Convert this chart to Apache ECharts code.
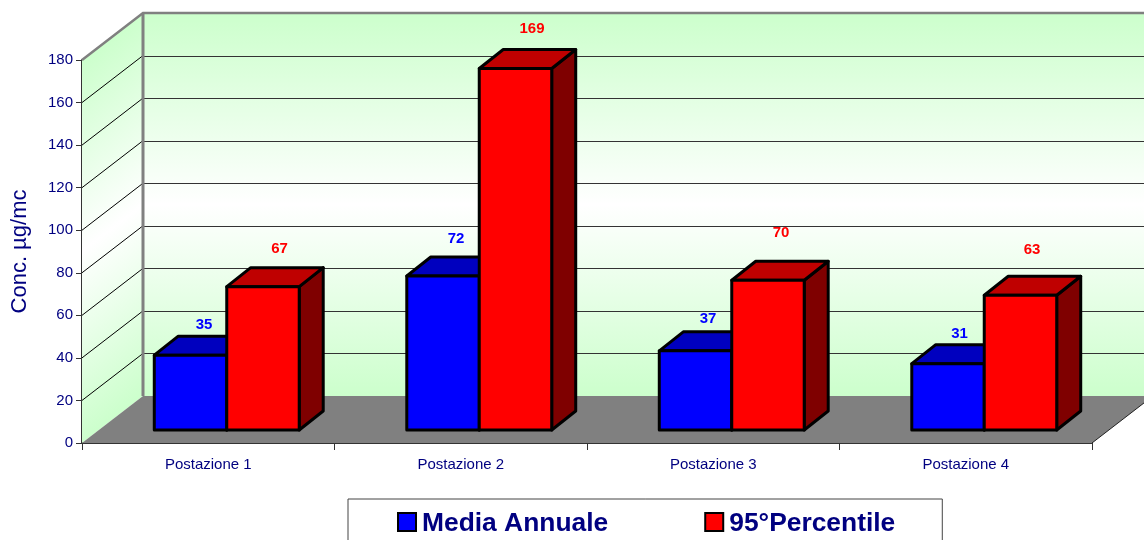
<!DOCTYPE html>
<html>
<head>
<meta charset="utf-8">
<style>html,body{margin:0;padding:0;background:#fff}#c{width:1144px;height:540px}</style>
<script src="https://cdn.jsdelivr.net/npm/echarts@6/dist/echarts.min.js"></script>
</head>
<body>
<div id="c"></div>
<script>
const categories = ['Postazione 1', 'Postazione 2', 'Postazione 3', 'Postazione 4'];
const mediaAnnuale = [35, 72, 37, 31];
const percentile95 = [67, 169, 70, 63];
const yTicks = [0, 20, 40, 60, 80, 100, 120, 140, 160, 180];

// Oblique-projection constants
const WALL_DX = 61, WALL_DY = -47;
const BAR_DX = 24, BAR_DY = -19;
const BAR_SHARE = 0.287;
const FONT = '"Liberation Sans", Arial, sans-serif';
const NAVY = '#000080';
const GREEN = '#CCFFCC';
// Square swatch sitting slightly above the legend text's middle
const SWATCH = 'path://M0,0L18,0L18,18L0,18Z M0,22L0,22';

// Label offsets from the middle of each bar's top front edge
const mediaLabelShift = [[13.5, -30.5], [13, -37.1], [12.5, -32.2], [11.5, -30]];
const percentileLabelShift = [[16.5, -37.8], [16.5, -40.1], [13, -47.5], [11.5, -45.5]];

function wallGradient(x0, y0, x1, y1) {
  return new echarts.graphic.LinearGradient(x0, y0, x1, y1, [
    { offset: 0, color: GREEN }, { offset: 0.5, color: '#FFFFFF' }, { offset: 1, color: GREEN }
  ], true);
}

function renderWalls(params, api) {
  const g = params.coordSys;
  const L = g.x, R = g.x + g.width, T = g.y, B = g.y + g.height;
  const bL = L + WALL_DX, bR = R + WALL_DX, bT = T + WALL_DY, bB = B + WALL_DY;
  // normal of the receding edge, so the side wall shading follows the skew
  const nx = -WALL_DY, ny = WALL_DX, k = (B - T) * ny / (nx * nx + ny * ny);
  const children = [
    { type: 'polygon', shape: { points: [[bL, bT], [bR, bT], [bR, bB], [bL, bB]] },
      style: { fill: wallGradient(0, bT, 0, bB) } },
    { type: 'polygon', shape: { points: [[L, T], [bL, bT], [bL, bB], [L, B]] },
      style: { fill: wallGradient(L, T, L + nx * k, T + ny * k) } },
    { type: 'polygon', shape: { points: [[L, B], [R, B], [bR, bB], [bL, bB]] },
      style: { fill: '#808080' } }
  ];
  yTicks.forEach(function (v) {
    const y = api.coord([0, v])[1];
    if (v > 0 && v < 180) {
      children.push({ type: 'line', shape: { x1: L, y1: y, x2: bL, y2: y + WALL_DY },
        style: { stroke: '#000', lineWidth: 1 } });
      children.push({ type: 'line', shape: { x1: bL, y1: Math.round(y + WALL_DY) + 0.5, x2: bR, y2: Math.round(y + WALL_DY) + 0.5 },
        style: { stroke: '#333', lineWidth: 1 } });
    }
  });
  children.push({ type: 'polyline', shape: { points: [[L, T], [bL, bT], [bR, bT]] },
    style: { stroke: '#808080', lineWidth: 2.5, fill: null } });
  children.push({ type: 'line', shape: { x1: bL, y1: bT, x2: bL, y2: bB },
    style: { stroke: '#808080', lineWidth: 3 } });
  children.push({ type: 'line', shape: { x1: R, y1: B, x2: bR, y2: bB },
    style: { stroke: '#222', lineWidth: 1 } });
  return { type: 'group', children: children };
}

function barRenderer(side, front, top, flank, labelColor, shifts) {
  return function (params, api) {
    const i = api.value(0);
    const w = api.size([1, 0])[0] * BAR_SHARE;
    const topP = api.coord([i, api.value(1)]);
    const baseP = api.coord([i, 0]);
    const x0 = topP[0] + (side < 0 ? -w : 0), x1 = x0 + w;
    const yT = topP[1], yB = baseP[1];
    const line = { stroke: '#000', lineWidth: 3, lineJoin: 'round' };
    const shift = shifts[i];
    return {
      type: 'group',
      children: [
        { type: 'polygon', shape: { points: [[x1, yT], [x1 + BAR_DX, yT + BAR_DY], [x1 + BAR_DX, yB + BAR_DY], [x1, yB]] },
          style: Object.assign({ fill: flank }, line) },
        { type: 'polygon', shape: { points: [[x0, yT], [x0 + BAR_DX, yT + BAR_DY], [x1 + BAR_DX, yT + BAR_DY], [x1, yT]] },
          style: Object.assign({ fill: top }, line) },
        { type: 'rect', shape: { x: x0, y: yT, width: w, height: yB - yT },
          style: Object.assign({ fill: front }, line) },
        { type: 'text', z2: 50,
          style: { x: (x0 + x1) / 2 + shift[0], y: yT + shift[1], text: String(api.value(1)),
            fill: labelColor, font: 'bold 15px ' + FONT, align: 'center', verticalAlign: 'middle' } }
      ]
    };
  };
}

const chart = echarts.init(document.getElementById('c'), null, { renderer: 'canvas' });
chart.setOption({
  animation: false,
  backgroundColor: '#fff',
  textStyle: { fontFamily: FONT },
  grid: [
    { left: 82, top: 60, width: 1010, height: 383, containLabel: false, outerBoundsMode: 'none' },
    // plane the bars stand on, set back from the front of the floor
    { left: 100.5, top: 45, width: 1010, height: 385, outerBoundsMode: 'none' }
  ],
  xAxis: [
    { type: 'category', gridIndex: 0, data: categories, boundaryGap: true,
      axisLine: { show: true, onZero: false, lineStyle: { color: '#333', width: 2 } },
      axisTick: { show: true, length: 7, alignWithLabel: false, lineStyle: { color: '#333', width: 1 } },
      axisLabel: { color: NAVY, fontSize: 15, margin: 14, fontFamily: FONT },
      splitLine: { show: false } },
    { type: 'category', gridIndex: 1, data: categories, show: false }
  ],
  yAxis: [
    { type: 'value', gridIndex: 0, min: 0, max: 180, interval: 20,
      name: 'Conc. µg/mc', nameLocation: 'middle', nameGap: 51, nameRotate: 90,
      nameTextStyle: { color: NAVY, fontSize: 22, fontFamily: FONT },
      axisLine: { show: true, lineStyle: { color: '#333', width: 2 } },
      axisTick: { show: true, length: 6, lineStyle: { color: '#333', width: 1 } },
      axisLabel: { color: NAVY, fontSize: 15, margin: 9, fontFamily: FONT, padding: [2, 0, 0, 0] },
      splitLine: { show: false } },
    { type: 'value', gridIndex: 1, min: 0, max: 180, interval: 20, show: false }
  ],
  legend: {
    left: 348, top: 499, orient: 'horizontal',
    padding: [12, 47, 40, 49],
    backgroundColor: '#fff', borderColor: '#444', borderWidth: 1,
    itemWidth: 18, itemHeight: 22, itemGap: 96,
    textStyle: { color: NAVY, fontSize: 26.4, fontWeight: 'bold', fontFamily: FONT, padding: [0, 0, 0, 1] },
    data: [
      { name: 'Media Annuale', icon: SWATCH, itemStyle: { color: '#0000FF', borderColor: '#000', borderWidth: 2 } },
      { name: '95°Percentile', icon: SWATCH, itemStyle: { color: '#FF0000', borderColor: '#000', borderWidth: 2 } }
    ]
  },
  series: [
    { type: 'custom', name: 'walls', xAxisIndex: 0, yAxisIndex: 0, clip: false, silent: true, z: 1,
      data: [[0, 0]], renderItem: renderWalls, encode: { x: 0, y: 1 } },
    { type: 'custom', name: 'Media Annuale', xAxisIndex: 1, yAxisIndex: 1, clip: false, z: 3,
      itemStyle: { color: '#0000FF' },
      data: mediaAnnuale.map(function (v, i) { return [i, v]; }), encode: { x: 0, y: 1 },
      renderItem: barRenderer(-1, '#0000FF', '#0000BF', '#00007F', '#0000FF', mediaLabelShift) },
    { type: 'custom', name: '95°Percentile', xAxisIndex: 1, yAxisIndex: 1, clip: false, z: 4,
      itemStyle: { color: '#FF0000' },
      data: percentile95.map(function (v, i) { return [i, v]; }), encode: { x: 0, y: 1 },
      renderItem: barRenderer(1, '#FF0000', '#BF0000', '#7F0000', '#FF0000', percentileLabelShift) }
  ]
});
</script>
</body>
</html>
